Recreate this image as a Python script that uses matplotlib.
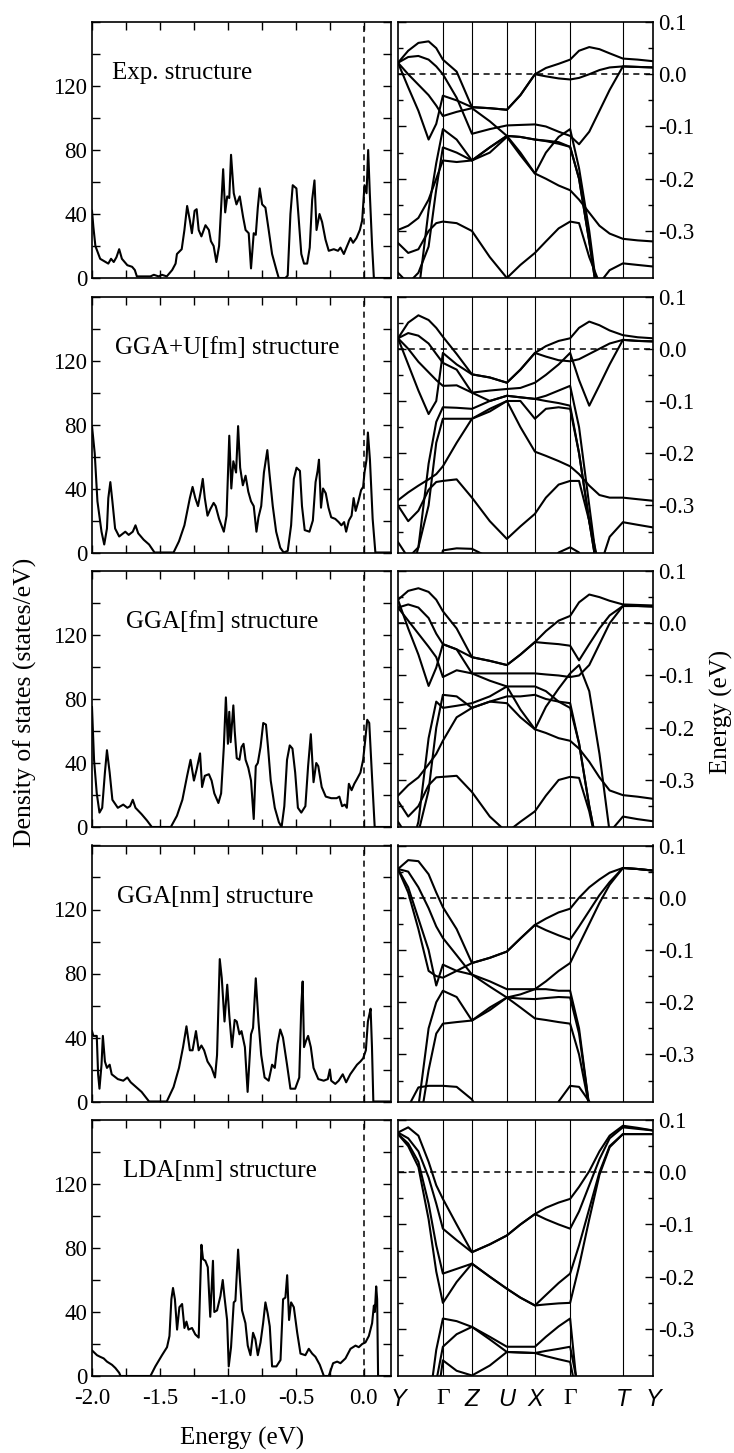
import numpy as np
import matplotlib.pyplot as plt
from matplotlib.ticker import MultipleLocator, FormatStrFormatter

plt.rcParams['font.family'] = ['Liberation Serif', 'DejaVu Serif']
plt.rcParams['axes.unicode_minus'] = False

# panel titles
labels = ['Exp. structure', 'GGA+U[fm] structure', 'GGA[fm] structure',
          'GGA[nm] structure', 'LDA[nm] structure']
label_x = [0.067, 0.077, 0.114, 0.082, 0.104]

# ---- density of states (energy in eV, DOS in states/eV) ----
dos_e_exp = [-2.00, -1.99, -1.975, -1.94, -1.90, -1.88, -1.86, -1.84, -1.82, -1.80, -1.78, -1.74, -1.705,
             -1.685, -1.67, -1.57, -1.545, -1.51, -1.485, -1.45, -1.41, -1.385, -1.375, -1.34, -1.32, -1.30,
             -1.28, -1.265, -1.245, -1.23, -1.215, -1.195, -1.165, -1.14, -1.125, -1.105, -1.085, -1.065,
             -1.035, -1.02, -1.005, -0.99, -0.977, -0.957, -0.937, -0.913, -0.888, -0.87, -0.847, -0.83,
             -0.81, -0.795, -0.78, -0.766, -0.748, -0.724, -0.70, -0.675, -0.643, -0.626, -0.577, -0.56,
             -0.54, -0.523, -0.496, -0.48, -0.46, -0.44, -0.417, -0.398, -0.38, -0.363, -0.348, -0.326,
             -0.307, -0.282, -0.258, -0.221, -0.19, -0.172, -0.147, -0.123, -0.098, -0.079, -0.054, -0.029,
             -0.012, 0.005, 0.02, 0.032, 0.044, 0.061, 0.074, 0.2]
dos_exp = [42, 32, 20, 12, 10, 9, 12, 10, 13, 18, 12, 8, 7, 5, 1, 1, 2, 1, 2, 1, 5, 9, 15, 18, 30, 45, 36,
           28, 42, 43, 30, 26, 33, 30, 23, 20, 10, 20, 68, 41, 51, 50, 77, 53, 46, 51, 38, 30, 28, 6, 28, 27,
           44, 56, 46, 44, 30, 15, 5, 0, 0, 1.5, 40, 58, 56, 38, 15, 9, 9, 19, 49, 61, 30, 40, 35, 24, 17,
           18, 17, 19, 15, 20, 25, 22, 25, 30, 36, 58, 53, 80, 53, 20, 0, 0]

dos_e_ggau = [-2.00, -1.98, -1.96, -1.93, -1.91, -1.89, -1.88, -1.865, -1.85, -1.83, -1.80, -1.755, -1.73,
              -1.70, -1.68, -1.66, -1.62, -1.58, -1.54, -1.40, -1.36, -1.32, -1.28, -1.26, -1.24, -1.22,
              -1.20, -1.185, -1.17, -1.15, -1.13, -1.105, -1.09, -1.065, -1.03, -1.01, -0.99, -0.975, -0.96,
              -0.94, -0.925, -0.91, -0.89, -0.87, -0.85, -0.83, -0.81, -0.79, -0.775, -0.755, -0.735, -0.71,
              -0.695, -0.67, -0.645, -0.615, -0.59, -0.56, -0.535, -0.515, -0.495, -0.47, -0.455, -0.435,
              -0.40, -0.375, -0.355, -0.34, -0.33, -0.315, -0.30, -0.28, -0.26, -0.24, -0.21, -0.185, -0.165,
              -0.145, -0.13, -0.11, -0.09, -0.075, -0.06, -0.04, -0.02, -0.005, 0.005, 0.02, 0.03, 0.045,
              0.065, 0.085, 0.2]
dos_ggau = [79, 62, 32, 13, 5, 15, 34, 44, 32, 15, 10, 13, 11, 13, 17, 12, 8, 5, 0, 0, 7, 17, 34, 41, 34, 29,
            38, 46, 34, 23, 27, 31, 29, 21, 13, 23, 73, 40, 57, 50, 79, 53, 42, 48, 38, 32, 29, 13, 22, 29,
            50, 64, 50, 29, 13, 3, 0, 1, 17, 46, 53, 51, 29, 14, 13, 20, 44, 51, 58, 28, 40, 37, 28, 22, 21,
            19, 17, 19, 13, 20, 23, 34, 26, 32, 39, 41, 50, 58, 75, 58, 21, 0, 0]

dos_e_gga = [-2.00, -1.985, -1.965, -1.945, -1.925, -1.905, -1.89, -1.87, -1.85, -1.81, -1.77, -1.74, -1.72,
             -1.70, -1.68, -1.635, -1.595, -1.56, -1.42, -1.375, -1.335, -1.30, -1.275, -1.25, -1.23, -1.205,
             -1.19, -1.17, -1.14, -1.12, -1.10, -1.07, -1.05, -1.03, -1.015, -1.00, -0.99, -0.98, -0.96,
             -0.95, -0.935, -0.915, -0.90, -0.885, -0.87, -0.85, -0.83, -0.81, -0.795, -0.78, -0.76, -0.74,
             -0.72, -0.705, -0.685, -0.655, -0.625, -0.605, -0.585, -0.565, -0.545, -0.525, -0.505, -0.485,
             -0.46, -0.43, -0.41, -0.39, -0.37, -0.35, -0.335, -0.31, -0.28, -0.24, -0.20, -0.18, -0.16,
             -0.14, -0.125, -0.11, -0.09, -0.07, -0.05, -0.025, -0.005, 0.01, 0.025, 0.04, 0.06, 0.08, 0.2]
dos_gga = [75, 42, 21, 9, 12, 34, 48, 34, 17, 12, 14, 12, 13, 17, 12, 8, 4, 0, 0, 7, 17, 32, 42, 29, 36, 46,
           25, 32, 33, 29, 21, 15, 21, 50, 81, 52, 72, 53, 76, 60, 43, 42, 50, 52, 42, 37, 29, 5, 38, 40, 50,
           65, 64, 50, 29, 12, 3, 0, 13, 42, 51, 49, 34, 12, 9, 13, 38, 58, 28, 40, 38, 25, 19, 18, 18, 19,
           13, 14, 12, 27, 23, 27, 30, 34, 42, 54, 67, 65, 32, 0, 0]

dos_e_ggan = [-2.00, -1.99, -1.965, -1.955, -1.945, -1.93, -1.92, -1.905, -1.89, -1.87, -1.855, -1.81, -1.77,
              -1.74, -1.715, -1.675, -1.635, -1.58, -1.45, -1.40, -1.36, -1.33, -1.305, -1.28, -1.26, -1.235,
              -1.215, -1.195, -1.175, -1.15, -1.12, -1.095, -1.08, -1.06, -1.045, -1.025, -1.005, -0.99,
              -0.97, -0.95, -0.935, -0.915, -0.90, -0.875, -0.855, -0.83, -0.815, -0.795, -0.775, -0.755,
              -0.73, -0.70, -0.675, -0.655, -0.635, -0.615, -0.595, -0.565, -0.54, -0.505, -0.475, -0.46,
              -0.45, -0.44, -0.425, -0.41, -0.39, -0.37, -0.335, -0.295, -0.265, -0.25, -0.24, -0.21, -0.185,
              -0.155, -0.13, -0.10, -0.075, -0.05, -0.025, -0.005, 0.015, 0.03, 0.04, 0.05, 0.06, 0.07, 0.2]
dos_ggan = [44, 41, 41, 17, 8, 23, 41, 25, 21, 23, 17, 14, 13, 15, 12, 9, 6, 0, 0, 9, 21, 34, 47, 32, 32, 44,
            32, 35, 32, 25, 21, 15, 29, 89, 77, 50, 73, 54, 34, 51, 50, 42, 44, 34, 6, 42, 46, 77, 50, 29, 15,
            13, 23, 21, 36, 45, 40, 23, 8, 8, 15, 60, 75, 34, 38, 41, 34, 21, 14, 13, 14, 20, 13, 11, 13, 17,
            12, 17, 20, 23, 25, 27, 32, 50, 54, 58, 34, 0, 0]

dos_e_lda = [-2.00, -1.963, -1.94, -1.914, -1.89, -1.853, -1.828, -1.80, -1.79, -1.57, -1.534, -1.485, -1.448,
             -1.43, -1.416, -1.404, -1.39, -1.374, -1.357, -1.337, -1.32, -1.305, -1.29, -1.264, -1.24,
             -1.215, -1.195, -1.183, -1.166, -1.148, -1.13, -1.11, -1.10, -1.08, -1.055, -1.038, -1.026,
             -1.006, -0.994, -0.977, -0.957, -0.945, -0.925, -0.913, -0.896, -0.871, -0.854, -0.834, -0.815,
             -0.798, -0.78, -0.76, -0.741, -0.724, -0.707, -0.692, -0.675, -0.643, -0.613, -0.594, -0.577,
             -0.564, -0.55, -0.535, -0.515, -0.49, -0.466, -0.43, -0.405, -0.38, -0.356, -0.324, -0.294,
             -0.258, -0.226, -0.196, -0.172, -0.135, -0.098, -0.061, -0.037, -0.012, 0.012, 0.037, 0.061,
             0.074, 0.081, 0.091, 0.098, 0.105, 0.2]
dos_lda = [16, 13, 12, 11, 9, 7, 5, 2, 0, 0, 6, 13, 18, 25, 48, 55, 48, 29, 43, 45, 30, 34, 29, 30, 26, 24,
           82, 73, 72, 68, 37, 72, 40, 41, 50, 60, 50, 35, 6, 18, 46, 47, 79, 62, 41, 33, 19, 13, 27, 23, 13,
           21, 33, 46, 39, 31, 6, 6, 10, 48, 49, 63, 35, 46, 43, 27, 14, 13, 17, 14, 12, 7, 0, 0, 8, 9, 8, 11,
           17, 19, 18, 20, 21, 25, 33, 44, 40, 56, 48, 0, 0]

dos_e = [dos_e_exp, dos_e_ggau, dos_e_gga, dos_e_ggan, dos_e_lda]
dos_v = [dos_exp, dos_ggau, dos_gga, dos_ggan, dos_lda]

# ---- band structures (energy in eV on a common k grid) ----
k_path = [0.0, 0.176, 0.290, 0.427, 0.537, 0.675, 0.882, 1.0]
k_names = ['Y', 'Γ', 'Z', 'U', 'X', 'Γ', 'T', 'Y']
k_grid = [0.0, 0.04, 0.08, 0.12, 0.15, 0.176, 0.23, 0.29, 0.36, 0.427, 0.48,
          0.537, 0.58, 0.63, 0.675, 0.71, 0.75, 0.79, 0.83, 0.882, 0.94, 1.0]

bands_exp = [
    [.022, .045, .060, .063, .050, .028, .005, -.063, -.065, -.068, -.040, .000, .012, .020, .028, .045, .052, .048, .040, .030, .028, .025],
    [.022, .033, .035, .028, .015, .000, -.045, -.114, -.105, -.098, -.097, -.096, -.100, -.110, -.118, -.134, -.110, -.070, -.030, .015, .014, .013],
    [.022, .000, -.020, -.040, -.060, -.080, -.072, -.065, -.090, -.118, -.120, -.125, -.128, -.133, -.139, -.200, -.320, -.450, -.450, -.450, -.450, -.450],
    [.022, -.025, -.070, -.125, -.095, -.041, -.050, -.063, -.065, -.068, -.040, .000, -.004, -.008, -.010, -.007, .000, .008, .013, .015, .014, .013],
    [-.450, -.450, -.420, -.260, -.170, -.105, -.125, -.165, -.140, -.118, -.150, -.190, -.150, -.120, -.105, -.180, -.300, -.450, -.450, -.450, -.450, -.450],
    [-.298, -.290, -.275, -.240, -.200, -.165, -.168, -.165, -.150, -.120, -.155, -.190, -.200, -.213, -.222, -.240, -.265, -.290, -.305, -.315, -.318, -.320],
    [-.323, -.342, -.335, -.300, -.285, -.282, -.285, -.300, -.350, -.390, -.365, -.342, -.320, -.295, -.282, -.285, -.350, -.400, -.375, -.362, -.365, -.368],
    [-.380, -.400, -.380, -.330, -.220, -.140, -.150, -.165, -.140, -.118, -.120, -.125, -.127, -.130, -.139, -.200, -.320, -.450, -.450, -.450, -.450, -.450],
]

bands_ggau = [
    [.020, .050, .064, .055, .040, .023, -.010, -.049, -.055, -.065, -.040, -.008, .005, .015, .020, .040, .052, .045, .035, .026, .022, .020],
    [.020, .030, .025, .010, -.010, -.027, -.040, -.084, -.080, -.077, -.075, -.065, -.050, -.030, -.008, -.060, -.109, -.070, -.030, .017, .015, .014],
    [.020, .000, -.025, -.045, -.060, -.071, -.070, -.084, -.100, -.090, -.093, -.096, -.100, -.104, -.109, -.200, -.330, -.450, -.450, -.450, -.450, -.450],
    [.020, -.030, -.080, -.125, -.100, -.008, -.030, -.049, -.055, -.065, -.040, -.008, -.015, -.022, -.024, -.020, -.010, .000, .010, .017, .015, .014],
    [-.450, -.450, -.380, -.220, -.140, -.112, -.113, -.115, -.100, -.090, -.093, -.096, -.090, -.080, -.071, -.150, -.300, -.450, -.450, -.450, -.450, -.450],
    [-.290, -.275, -.262, -.250, -.240, -.225, -.180, -.134, -.120, -.100, -.150, -.197, -.205, -.215, -.225, -.240, -.262, -.280, -.285, -.285, -.288, -.291],
    [-.300, -.330, -.310, -.270, -.255, -.253, -.250, -.285, -.330, -.364, -.340, -.316, -.285, -.260, -.253, -.253, -.330, -.420, -.360, -.332, -.337, -.342],
    [-.370, -.400, -.380, -.300, -.180, -.134, -.134, -.134, -.115, -.100, -.100, -.134, -.115, -.112, -.115, -.200, -.330, -.450, -.450, -.450, -.450, -.450],
    [-.450, -.450, -.450, -.450, -.450, -.386, -.382, -.383, -.400, -.450, -.450, -.450, -.420, -.390, -.380, -.390, -.450, -.450, -.450, -.450, -.450, -.450],
]

bands_gga = [
    [.045, .062, .067, .060, .045, .023, -.010, -.065, -.072, -.080, -.060, -.036, -.015, .005, .014, .040, .055, .050, .043, .036, .035, .034],
    [.030, .036, .030, .010, -.020, -.040, -.050, -.096, -.096, -.096, -.096, -.096, -.098, -.100, -.103, -.100, -.080, -.040, .000, .033, .033, .032],
    [.030, .005, -.020, -.045, -.065, -.103, -.090, -.096, -.110, -.121, -.121, -.121, -.130, -.150, -.162, -.230, -.350, -.450, -.450, -.450, -.450, -.450],
    [.045, -.010, -.060, -.120, -.085, -.040, -.050, -.065, -.072, -.080, -.060, -.036, -.038, -.040, -.043, -.071, -.040, -.010, .015, .033, .033, .032],
    [-.450, -.450, -.380, -.220, -.150, -.162, -.158, -.153, -.140, -.121, -.165, -.203, -.160, -.125, -.096, -.080, -.130, -.250, -.400, -.450, -.450, -.450],
    [-.330, -.310, -.295, -.270, -.250, -.225, -.180, -.162, -.150, -.153, -.180, -.203, -.210, -.220, -.225, -.240, -.265, -.295, -.320, -.329, -.332, -.336],
    [-.340, -.370, -.350, -.310, -.295, -.294, -.292, -.323, -.370, -.400, -.380, -.360, -.330, -.300, -.294, -.296, -.360, -.450, -.400, -.370, -.375, -.379],
    [-.380, -.410, -.400, -.320, -.200, -.137, -.140, -.162, -.150, -.140, -.140, -.137, -.145, -.150, -.153, -.230, -.350, -.450, -.450, -.450, -.450, -.450],
]

bands_ggan = [
    [.055, .072, .070, .045, .010, -.018, -.060, -.125, -.115, -.103, -.078, -.052, -.040, -.028, -.021, .000, .020, .035, .048, .057, .055, .052],
    [.055, .050, .020, -.020, -.055, -.077, -.110, -.147, -.160, -.175, -.175, -.175, -.160, -.140, -.125, -.090, -.050, -.010, .025, .057, .055, .052],
    [.055, .020, -.040, -.100, -.168, -.128, -.140, -.147, -.170, -.191, -.193, -.194, -.192, -.190, -.191, -.260, -.400, -.450, -.450, -.450, -.450, -.450],
    [.055, .010, -.060, -.140, -.150, -.153, -.140, -.125, -.115, -.103, -.078, -.052, -.062, -.072, -.080, -.055, -.025, .005, .030, .057, .055, .052],
    [-.450, -.450, -.400, -.250, -.200, -.178, -.190, -.235, -.210, -.191, -.210, -.231, -.234, -.238, -.241, -.300, -.400, -.450, -.450, -.450, -.450, -.450],
    [-.450, -.450, -.450, -.330, -.260, -.241, -.238, -.235, -.215, -.191, -.185, -.175, -.175, -.178, -.178, -.250, -.400, -.450, -.450, -.450, -.450, -.450],
    [-.450, -.400, -.363, -.360, -.360, -.360, -.362, -.386, -.450, -.450, -.450, -.450, -.450, -.390, -.360, -.362, -.390, -.450, -.450, -.450, -.450, -.450],
]

bands_lda = [
    [.076, .086, .070, .020, -.025, -.051, -.100, -.153, -.138, -.121, -.100, -.080, -.068, -.058, -.051, -.028, .002, .040, .070, .089, .085, .080],
    [.073, .050, .010, -.090, -.190, -.250, -.210, -.175, -.200, -.223, -.240, -.255, -.253, -.251, -.250, -.180, -.090, -.005, .048, .073, .073, .073],
    [.073, .055, .020, -.060, -.140, -.194, -.185, -.175, -.200, -.223, -.240, -.255, -.235, -.212, -.194, -.140, -.070, .000, .050, .073, .073, .073],
    [.076, .065, .040, -.010, -.060, -.108, -.130, -.153, -.138, -.121, -.100, -.080, -.090, -.100, -.108, -.075, -.025, .025, .065, .086, .083, .080],
    [-.450, -.450, -.450, -.450, -.340, -.280, -.285, -.296, -.315, -.334, -.334, -.334, -.315, -.295, -.280, -.450, -.450, -.450, -.450, -.450, -.450, -.450],
    [-.450, -.450, -.450, -.450, -.400, -.334, -.310, -.296, -.320, -.344, -.345, -.346, -.342, -.338, -.334, -.420, -.450, -.450, -.450, -.450, -.450, -.450],
    [-.450, -.450, -.450, -.450, -.450, -.360, -.380, -.389, -.370, -.344, -.345, -.346, -.352, -.358, -.363, -.450, -.450, -.450, -.450, -.450, -.450, -.450],
]

all_bands = [bands_exp, bands_ggau, bands_gga, bands_ggan, bands_lda]

fig = plt.figure(figsize=(7.34, 14.53), dpi=100)
W, H = 734.0, 1453.0

for i in range(5):
    top = 22 + 274.5 * i
    bot = 1 - (top + 256) / H
    h = 256 / H

    # DOS panel
    ax = fig.add_axes([92 / W, bot, 299 / W, h])
    ax.plot(dos_e[i], dos_v[i], color='black', lw=1.5)
    ax.axvline(0.0, color='black', lw=1.1, ls=(0, (4, 3)))
    ax.set_xlim(-2.0, 0.2)
    ax.set_ylim(0, 160)
    ax.xaxis.set_major_locator(MultipleLocator(0.5))
    ax.xaxis.set_minor_locator(MultipleLocator(0.25))
    ax.yaxis.set_minor_locator(MultipleLocator(20))
    ax.xaxis.set_major_formatter(FormatStrFormatter('%.1f'))
    ax.set_yticks([0, 40, 80, 120])
    ax.tick_params(which='both', direction='in', top=True, right=True, labelsize=16.5,
                   length=5.5, width=1.0)
    ax.tick_params(axis='x', pad=9)
    if i < 4:
        ax.tick_params(labelbottom=False)
    ax.text(label_x[i], 0.80, labels[i], transform=ax.transAxes, fontsize=18, va='center')
    for s in ax.spines.values():
        s.set_linewidth(1.2)

    # band panel
    bx = fig.add_axes([398 / W, bot, 255 / W, h])
    for b in all_bands[i]:
        bx.plot(k_grid, b, color='black', lw=1.5)
    for kp in k_path[1:-1]:
        bx.axvline(kp, color='black', lw=0.8)
    bx.axhline(0.0, color='black', lw=1.1, ls=(0, (4, 3)))
    bx.set_xlim(0, 1)
    bx.set_ylim(-0.39, 0.1)
    bx.yaxis.set_major_locator(MultipleLocator(0.1))
    bx.yaxis.set_minor_locator(MultipleLocator(0.05))
    bx.yaxis.set_major_formatter(FormatStrFormatter('%.1f'))
    bx.tick_params(axis='y', which='both', direction='in', left=True, right=True,
                   labelleft=False, labelright=True, labelsize=16.5)
    bx.tick_params(axis='y', which='major', length=6, width=1.0)
    bx.tick_params(axis='y', which='minor', length=3.5, width=1.0)
    bx.set_xticks(k_path)
    bx.tick_params(axis='x', length=0, pad=9)
    if i < 4:
        bx.set_xticklabels([])
    else:
        bx.set_xticklabels(k_names)
        for t, name in zip(bx.get_xticklabels(), k_names):
            if name == 'Γ':
                t.set_fontfamily(['Liberation Serif', 'DejaVu Serif'])
            else:
                t.set_fontfamily(['Liberation Sans', 'DejaVu Sans'])
                t.set_fontstyle('italic')
            t.set_fontsize(17)
    for s in bx.spines.values():
        s.set_linewidth(1.2)

fig.text(25 / W, 1 - 702 / H, 'Density of states (states/eV)', rotation=90,
         fontsize=18.5, ha='center', va='center')
fig.text(721 / W, 1 - 712 / H, 'Energy (eV)', rotation=90, fontsize=18,
         ha='center', va='center')
fig.text(242 / W, 1 - 1438 / H, 'Energy (eV)', fontsize=18, ha='center', va='center')

fig.savefig('out.png', dpi=100)
